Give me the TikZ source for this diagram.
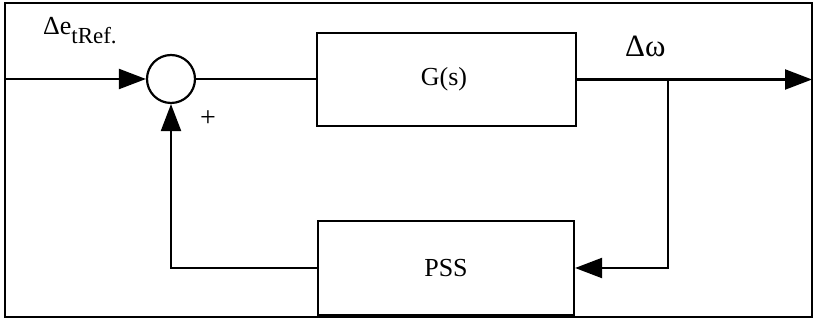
\documentclass[tikz,border=0pt]{standalone}
\usepackage{fontspec}
\setmainfont{Liberation Serif}
\usetikzlibrary{arrows.meta}
\begin{document}
\begin{tikzpicture}[x=1pt,y=-1pt,
  line width=2.2pt,
  box/.style={draw, line width=2.2pt, inner sep=0pt, font=\fontsize{26}{30}\selectfont},
  sumnode/.style={draw, circle, line width=2.2pt, minimum size=48pt, inner sep=0pt},
  arr/.style={-{Triangle[length=27pt,width=20pt]}},
  lbl/.style={inner sep=0pt}
]
\useasboundingbox (0,0) rectangle (815,320);
\node[draw, line width=2pt, inner sep=0pt, minimum width=807pt, minimum height=314pt] (frame) at (408.5,160) {};
\node[sumnode] (S) at (171,79) {};
\node[box, minimum width=259pt, minimum height=93pt] (G) at (446.5,79.5) {\hspace*{-5pt}G(s)};
\node[box, minimum width=256pt, minimum height=94pt] (P) at (446,268) {PSS};
\coordinate (in) at (5,79);
\coordinate (out) at (812,79.5);
\coordinate (B) at (668,79.5);
\draw[arr] (in) -- (S.west);
\draw (S.east) -- (S.east -| G.west);
\draw[arr] (G.east) -- (out);
\draw[arr] (B) -- (B |- P.east) -- (P.east);
\draw[arr] (P.west) -| (S.south);
\node[lbl, anchor=base west] (ein) at (42,35) {\fontsize{26}{29}\selectfont Δe\raisebox{-9pt}{\fontsize{23}{26}\selectfont tRef.}};
\node[lbl, anchor=base west] (wout) at (624,57) {\fontsize{31}{34}\selectfont Δω};
\node[lbl] (plus) at (208,119) {\fontsize{28}{32}\selectfont +};
\end{tikzpicture}
\end{document}
